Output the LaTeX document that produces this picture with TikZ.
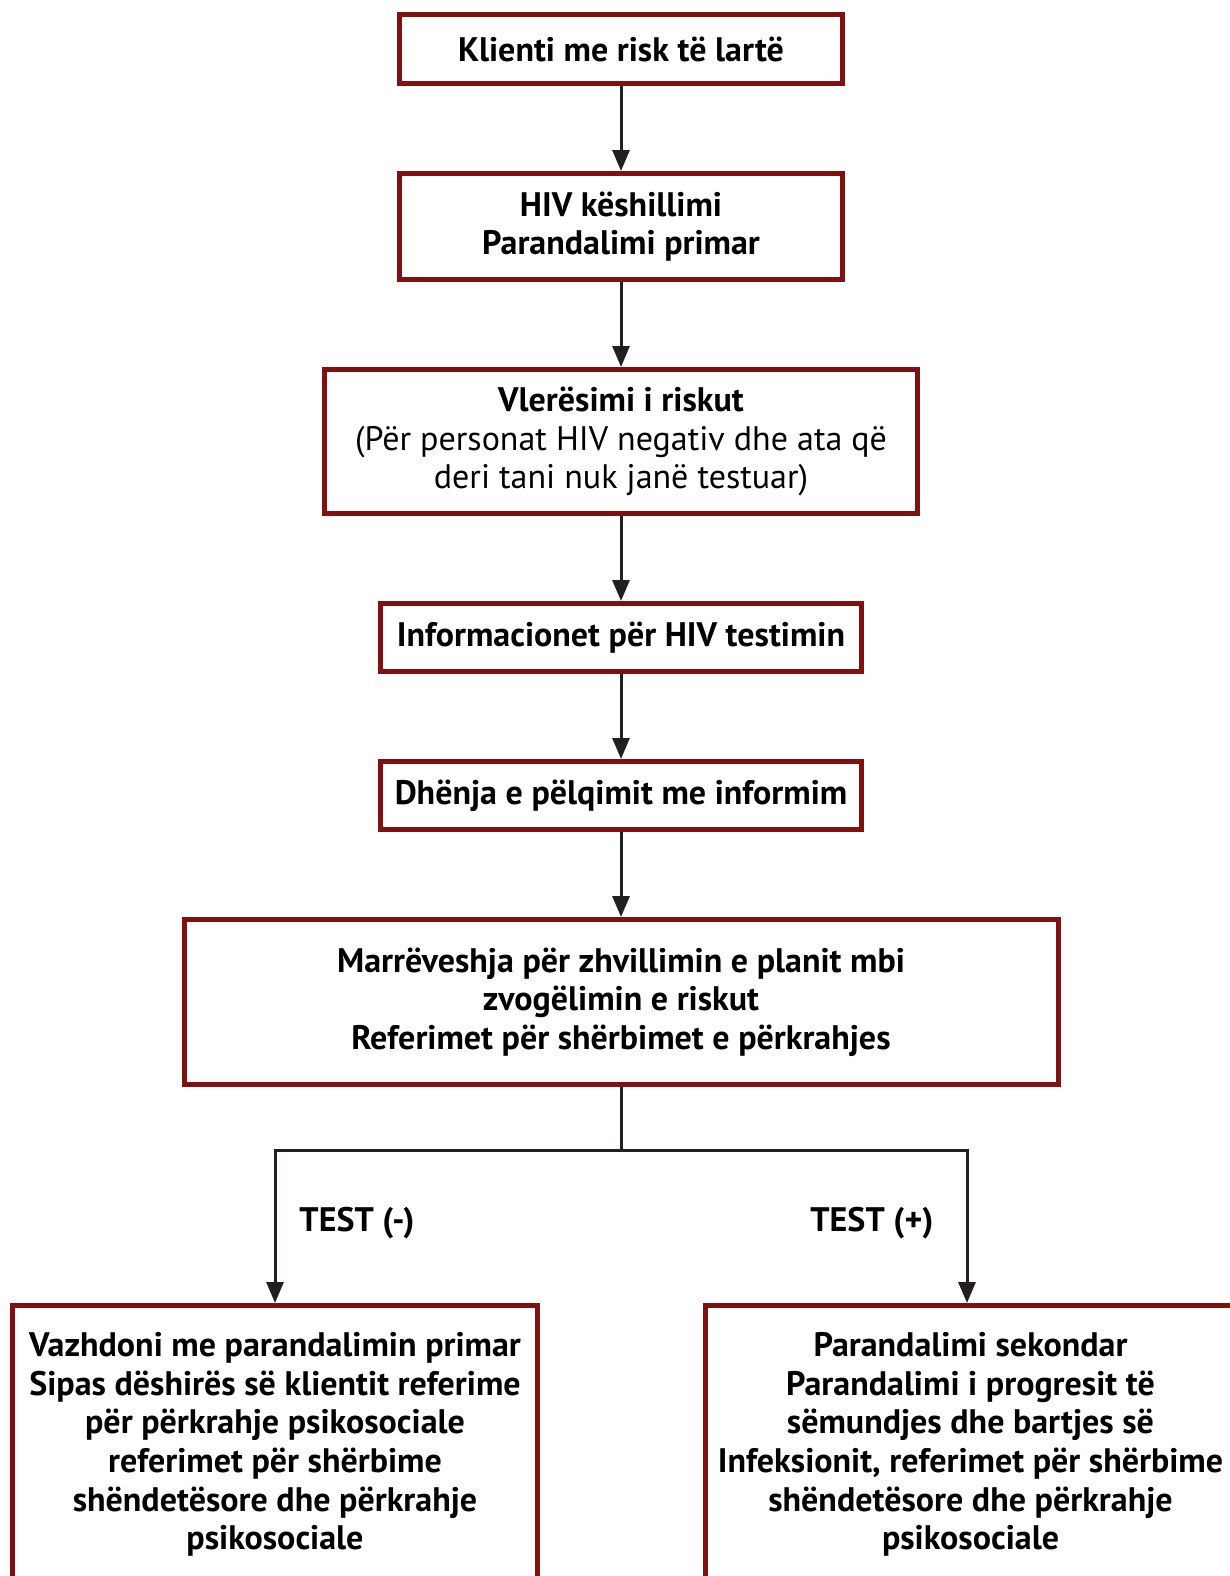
\documentclass[tikz,border=0pt]{standalone}
\usepackage{fontspec}
\setmainfont{PT Sans}
\usetikzlibrary{positioning,arrows.meta}
\definecolor{boxred}{RGB}{128,17,17}
\definecolor{linegray}{RGB}{35,31,32}
\begin{document}
\begin{tikzpicture}
        [
            x = 0.5pt, y = -0.5pt,
            node distance = 42.5pt,
            box/.style={draw=boxred, line width=2.5pt, fill=white, align=center, inner sep=0pt,
                font=\fontsize{17}{19.3}\selectfont\bfseries},
            link/.style={draw=linegray, line width=1.5pt},
            flow/.style={link, -{Triangle[length=10.5pt,width=8.5pt]}},
            testlabel/.style={font=\fontsize{17}{19.3}\selectfont\bfseries},
        ]
        \useasboundingbox (0,0) rectangle (1230,1576);
        \node[box, minimum width=221.5pt, minimum height=34.5pt] (client) at (621,49) {Klienti me risk të lartë};
        \node[box, minimum width=221.5pt, minimum height=53pt, below=of client] (counsel)
            {HIV këshillimi\\Parandalimi primar};
        \node[box, minimum width=296.5pt, minimum height=72pt, below=of counsel] (risk)
            {Vlerësimi i riskut\\
            \mdseries(Për personat HIV negativ dhe ata që\\
            \mdseries deri tani nuk janë testuar)};
        \node[box, minimum width=240.5pt, minimum height=34pt, below=of risk] (info)
            {Informacionet për HIV testimin};
        \node[box, minimum width=240.5pt, minimum height=34pt, below=of info] (consent)
            {Dhënja e pëlqimit me informim};
        \node[box, minimum width=437pt, minimum height=82.5pt, below=of consent] (agreement)
            {Marrëveshja për zhvillimin e planit mbi\\zvogëlimin e riskut\\Referimet për shërbimet e përkrahjes};
        \node[box, minimum width=262.5pt, minimum height=139pt] (negative) at (275,1444.5)
            {Vazhdoni me parandalimin primar\\Sipas dëshirës së klientit referime\\për përkrahje psikosociale\\
            referimet për shërbime\\shëndetësore dhe përkrahje\\psikosociale};
        \node[box, minimum width=265pt, minimum height=139pt] (positive) at (970.5,1444.5)
            {Parandalimi sekondar\\Parandalimi i progresit të\\sëmundjes dhe bartjes së\\
            Infeksionit, referimet për shërbime\\shëndetësore dhe përkrahje\\psikosociale};
        \coordinate (split) at (621,1150);
        \node[testlabel] (testneg) at (357,1223) {TEST (-)};
        \node[testlabel] (testpos) at (872,1223) {TEST (+)};

        \draw[flow] (client) -- (counsel);
        \draw[flow] (counsel) -- (risk);
        \draw[flow] (risk) -- (info);
        \draw[flow] (info) -- (consent);
        \draw[flow] (consent) -- (agreement);
        \draw[link] (agreement) -- (split);
        \draw[flow] (split) -| (negative.north);
        \draw[flow] (split) -| ([xshift=-1.75pt]positive.north);
    \end{tikzpicture}
\end{document}
